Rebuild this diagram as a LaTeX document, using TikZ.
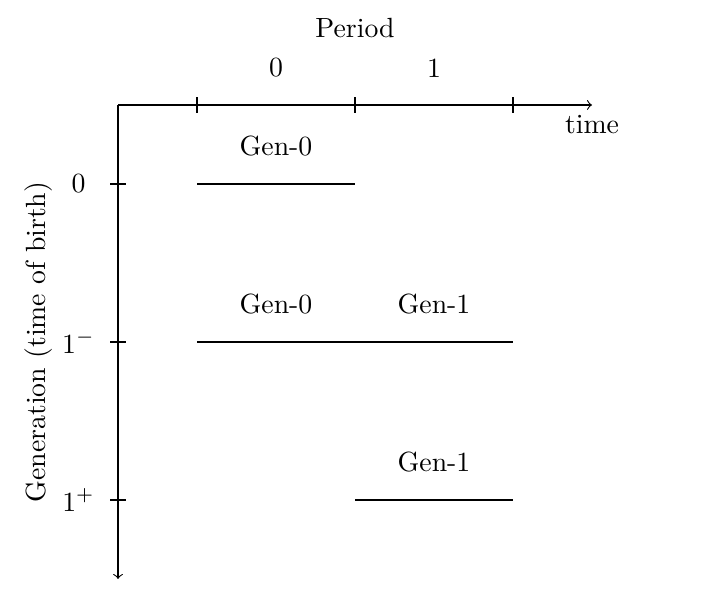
\documentclass[tikz,border=0pt]{standalone}
\usepackage{tikz}
\usetikzlibrary{positioning}
\tikzset{
  axisLine/.style = {->},
  tickMark/.style = {},
  lifeLine/.style = {thick},
  genLabel/.style = {above=0.22cm},
}

\begin{document}
\begin{tikzpicture}
  \useasboundingbox (-1.494,-6.443) rectangle (7.658,1.329);
  % axes
  \coordinate (o) at (0,0);
  \coordinate (tEnd) at (6,0);
  \coordinate (gEnd) at (0,-6);
  \draw[axisLine](o)--(tEnd) node[below](timeLbl){time};
  \draw[axisLine](o)--(gEnd);
  % period ticks
  \foreach \x in {1,3,5}{\draw[tickMark](\x,0.1)--(\x,-0.1);}
  \foreach \x/\p in {2/0,4/1}{\node(per\p) at (\x,0.47){\p};}
  \node(period) at (3,0.97){Period};
  % generation ticks
  \foreach \y/\g/\n in {-1/0/g0,-3/1^-/g1m,-5/1^+/g1p}{
    \draw[tickMark](-0.1,\y)--(0.1,\y);
    \node(\n) at (-0.5,\y){$\g$};}
  \node[rotate=90](genAxis) at (-1,-3){Generation (time of birth)};
  % lifetimes
  \foreach \x/\y/\l in {1/-1/Gen-0,1/-3/Gen-0,3/-3/Gen-1,3/-5/Gen-1}{
    \draw[lifeLine](\x,\y)--++(2,0) node[midway,genLabel]{\l};}
\end{tikzpicture}
\end{document}
